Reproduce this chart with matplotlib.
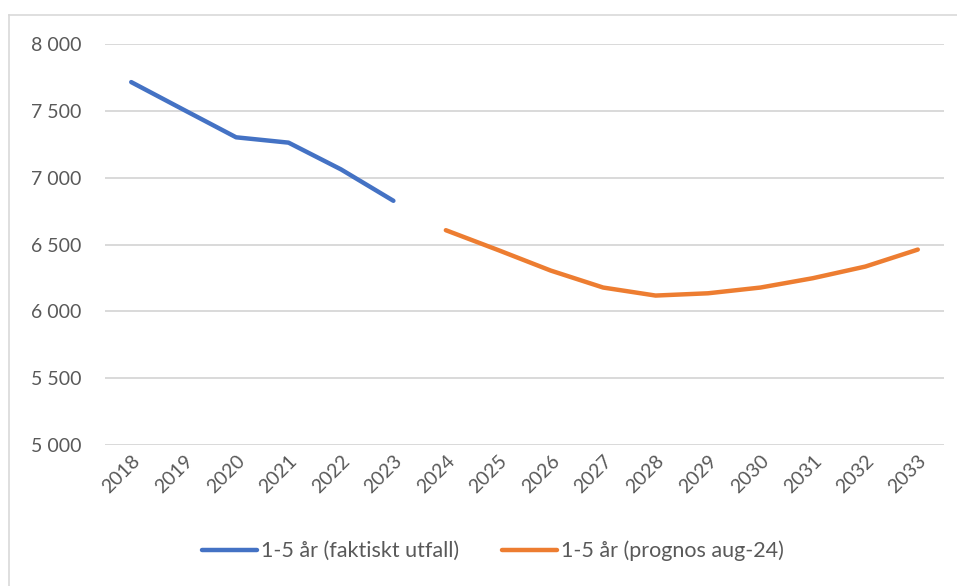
import numpy as np
import matplotlib

matplotlib.use("Agg")
import matplotlib.pyplot as plt
from matplotlib.lines import Line2D

years = [str(y) for y in range(2018, 2034)]
utfall = [7715, 7508, 7302, 7262, 7062, 6827] + [np.nan] * 10
prognos = [np.nan] * 6 + [6607, 6458, 6305, 6178, 6118, 6135, 6178, 6248, 6335, 6462]
yticks = [5000, 5500, 6000, 6500, 7000, 7500, 8000]
ytick_labels = ["5 000", "5 500", "6 000", "6 500", "7 000", "7 500", "8 000"]

plt.rcParams["font.family"] = ["Lato", "DejaVu Sans"]

fig = plt.figure(figsize=(9.57, 5.86), dpi=100)
ax = fig.add_axes([105 / 957, 1 - 445 / 586, 839 / 957, 401 / 586])

x = np.arange(len(years))
ax.plot(x, utfall, color="#4472C4", lw=3.2, solid_capstyle="round",
        label="1-5 år (faktiskt utfall)")
ax.plot(x, prognos, color="#ED7D31", lw=3.2, solid_capstyle="round",
        label="1-5 år (prognos aug-24)")

ax.set_xlim(-0.5, len(years) - 0.5)
ax.set_ylim(5000, 8000)
ax.set_yticks(yticks)
ax.set_yticklabels(ytick_labels)
ax.set_xticks(x)
ax.set_xticklabels(years, rotation=45, ha="right", rotation_mode="anchor")
ax.tick_params(axis="both", length=0, labelsize=14, labelcolor="#595959")
ax.tick_params(axis="y", pad=17)
ax.tick_params(axis="x", pad=5)
ax.grid(axis="y", color="#D9D9D9", lw=1.4)
ax.set_axisbelow(True)
for s in ax.spines.values():
    s.set_visible(False)

leg = fig.legend(loc="center", bbox_to_anchor=(0.515, 1 - 551 / 586), ncol=2,
                 frameon=False, fontsize=15.5, handlelength=2.55,
                 handletextpad=0.2, columnspacing=2.0)
for t in leg.get_texts():
    t.set_color("#595959")

# outer chart border (top and left edges only visible)
fig.add_artist(Line2D([9 / 957, 1.0], [1 - 15 / 586, 1 - 15 / 586],
                      transform=fig.transFigure, color="#D9D9D9", lw=1.2))
fig.add_artist(Line2D([9 / 957, 9 / 957], [0.0, 1 - 15 / 586],
                      transform=fig.transFigure, color="#D9D9D9", lw=1.2))

fig.savefig("out.png", dpi=100)
